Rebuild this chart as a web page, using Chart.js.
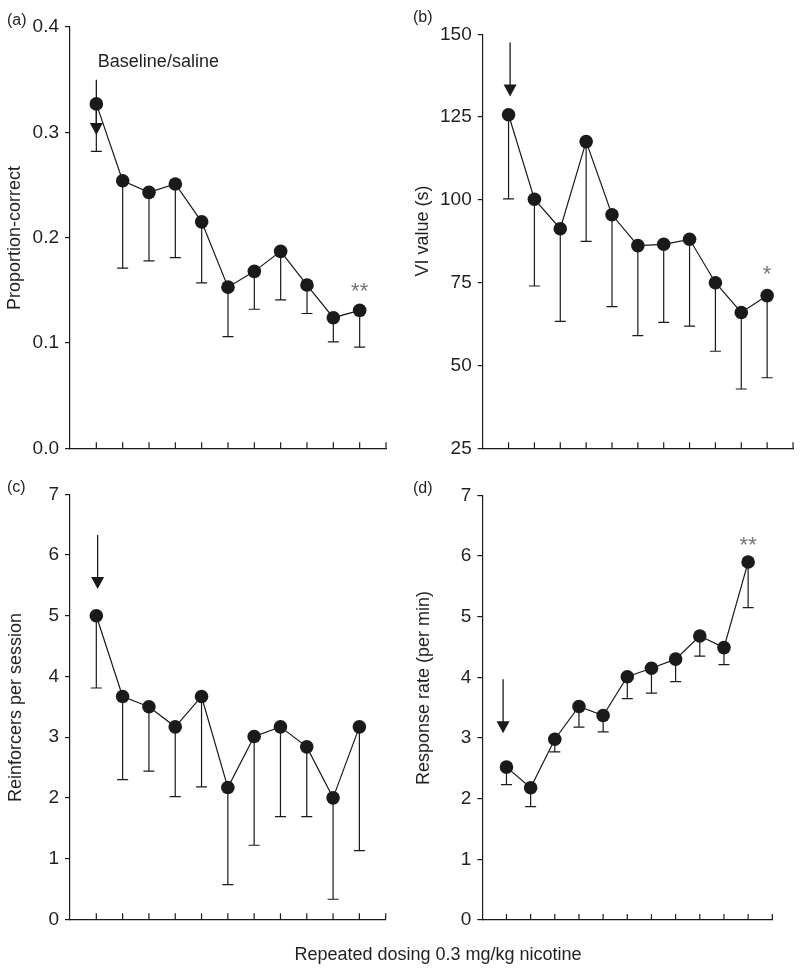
<!DOCTYPE html>
<html><head><meta charset="utf-8">
<script src="https://cdn.jsdelivr.net/npm/chart.js@4.4.0/dist/chart.umd.min.js"></script>
<style>
html,body{margin:0;padding:0;background:#fff;}
body{width:800px;height:971px;position:relative;overflow:hidden;font-family:"Liberation Sans",Arial,Helvetica,sans-serif;color:#231f20;}
.pane{position:absolute;}
.pane canvas{display:block;}
.plabel{position:absolute;font-size:16px;line-height:16px;}
#xlab{position:absolute;left:238px;width:400px;top:943px;text-align:center;font-size:18px;line-height:22px;}
</style></head><body>
<div class="pane" style="left:0;top:0"><canvas id="ca" width="400" height="470"></canvas></div>
<div class="pane" style="left:400px;top:0"><canvas id="cb" width="400" height="470"></canvas></div>
<div class="pane" style="left:0;top:470px"><canvas id="cc" width="400" height="501"></canvas></div>
<div class="pane" style="left:400px;top:470px"><canvas id="cd" width="400" height="501"></canvas></div>
<div class="plabel" style="left:7px;top:12px">(a)</div>
<div class="plabel" style="left:413px;top:9px">(b)</div>
<div class="plabel" style="left:7px;top:479px">(c)</div>
<div class="plabel" style="left:413px;top:480px">(d)</div>
<div id="xlab">Repeated dosing 0.3 mg/kg nicotine</div>
<script>
// ---- data ----
const sessionIdx = [1,2,3,4,5,6,7,8,9,10,11];
const xTickValues = [1,2,3,4,5,6,7,8,9,10,11,12];

const propCorrect    = [0.327,0.254,0.243,0.251,0.215,0.153,0.168,0.187,0.155,0.124,0.131];
const propCorrectLow = [0.282,0.171,0.178,0.181,0.157,0.106,0.132,0.141,0.128,0.101,0.096];
const propTicks = [0,0.1,0.2,0.3,0.4];

const viValue    = [125.7,100.2,91.3,117.6,95.5,86.2,86.6,88.1,75.0,66.0,71.1];
const viValueLow = [100.3,74.0,63.3,87.5,67.8,59.0,63.0,61.9,54.3,42.9,46.3];
const viTicks = [25,50,75,100,125,150];

const reinforcers    = [5.00,3.67,3.50,3.17,3.67,2.17,3.01,3.17,2.84,2.00,3.17];
const reinforcersLow = [3.81,2.30,2.44,2.02,2.18,0.57,1.22,1.69,1.69,0.33,1.13];
const reinfTicks = [0,1,2,3,4,5,6,7];

const responseRate    = [2.52,2.18,2.98,3.52,3.37,4.01,4.15,4.30,4.68,4.49,5.90];
const responseRateLow = [2.23,1.87,2.77,3.18,3.10,3.65,3.74,3.93,4.35,4.21,5.15];
const rateTicks = [0,1,2,3,4,5,6,7];

const FONT = '"Liberation Sans", Arial, Helvetica, sans-serif';
const INK = '#1a1a1a';
const TXT = '#231f20';

const annotPlugin = {
  id: 'annot',
  beforeDatasetsDraw(chart, args, o) {
    const {ctx, chartArea} = chart;
    const x = chart.scales.x, y = chart.scales.y;
    const pts = chart.data.datasets[0].data;
    ctx.save();
    ctx.strokeStyle = INK; ctx.lineWidth = 1.2;
    pts.forEach((p, i) => {
      const px = x.getPixelForValue(p.x), py = y.getPixelForValue(p.y), pl = y.getPixelForValue(o.low[i]);
      ctx.beginPath();
      ctx.moveTo(px, py); ctx.lineTo(px, pl);
      ctx.moveTo(px - 5.5, pl); ctx.lineTo(px + 5.5, pl);
      ctx.stroke();
    });
    xTickValues.forEach(v => {
      const px = x.getPixelForValue(v);
      ctx.beginPath(); ctx.moveTo(px, chartArea.bottom); ctx.lineTo(px, chartArea.bottom - 6); ctx.stroke();
    });
    ctx.restore();
  },
  afterDatasetsDraw(chart, args, o) {
    const {ctx} = chart;
    const x = chart.scales.x, y = chart.scales.y;
    ctx.save();
    // arrow
    const a = o.arrow;
    const ax = x.getPixelForValue(a.x), at = y.getPixelForValue(a.top), tip = y.getPixelForValue(a.tip);
    ctx.strokeStyle = INK; ctx.fillStyle = INK; ctx.lineWidth = 1.3;
    ctx.beginPath(); ctx.moveTo(ax, at); ctx.lineTo(ax, tip - 6); ctx.stroke();
    ctx.beginPath(); ctx.moveTo(ax - 6.5, tip - 12); ctx.lineTo(ax + 6.5, tip - 12); ctx.lineTo(ax, tip); ctx.closePath(); ctx.fill();
    // texts
    (o.texts || []).forEach(t => {
      ctx.font = t.size + 'px ' + FONT;
      ctx.fillStyle = t.color;
      ctx.textAlign = t.align;
      const px = x.getPixelForValue(t.x);
      const py = y.getPixelForValue(t.y);
      if (t.glyphCenter) { ctx.textBaseline = 'alphabetic'; ctx.fillText(t.text, px, py + t.size * 0.57); }
      else { ctx.textBaseline = 'middle'; ctx.fillText(t.text, px + 1.5, py); }
    });
    // y axis title
    ctx.font = '18px ' + FONT; ctx.fillStyle = TXT; ctx.textAlign = 'center'; ctx.textBaseline = 'middle';
    ctx.translate(o.title.cx, o.title.cy); ctx.rotate(-Math.PI / 2);
    ctx.fillText(o.title.text, 0, 0);
    ctx.restore();
  }
};

function makeChart(id, values, low, cfg) {
  return new Chart(document.getElementById(id), {
    type: 'line',
    data: { datasets: [{
      data: sessionIdx.map((s, i) => ({x: s, y: values[i]})),
      borderColor: INK, borderWidth: 1.2, tension: 0,
      pointRadius: 6.8, pointHoverRadius: 6.8, pointBackgroundColor: INK, pointBorderWidth: 0,
      clip: false
    }]},
    options: {
      responsive: false, animation: false, events: [],
      layout: {padding: {top: cfg.padTop, right: cfg.padRight, left: 0, bottom: 0}},
      plugins: {
        legend: {display: false}, tooltip: {enabled: false},
        annot: {low: low, arrow: cfg.arrow, texts: cfg.texts, title: cfg.title}
      },
      scales: {
        x: {type: 'linear', min: 0, max: 12,
            ticks: {display: false}, grid: {display: false},
            border: {display: true, color: INK, width: 1.2},
            afterFit(s) { s.height = cfg.xH; }},
        y: {type: 'linear', min: cfg.yTicks[0], max: cfg.yTicks[cfg.yTicks.length - 1],
            afterBuildTicks(s) { s.ticks = cfg.yTicks.map(v => ({value: v})); },
            ticks: {callback: cfg.fmt, color: TXT, font: {family: FONT, size: 19}, padding: 6},
            grid: {drawOnChartArea: false, drawTicks: true, tickLength: 5, color: INK, lineWidth: 1.2},
            border: {display: true, color: INK, width: 1.2},
            afterFit(s) { s.width = cfg.yW; }}
      }
    },
    plugins: [annotPlugin]
  });
}

makeChart('ca', propCorrect, propCorrectLow, {
  padTop: 27, padRight: 14, xH: 21.7, yW: 70, yTicks: propTicks, fmt: v => v.toFixed(1),
  arrow: {x: 1, top: 0.350, tip: 0.2975},
  texts: [
    {text: 'Baseline/saline', x: 1, y: 0.367, size: 18, color: TXT, align: 'left'},
    {text: '**', x: 11, y: 0.1544, size: 22, color: '#777', align: 'center', glyphCenter: true}
  ],
  title: {text: 'Proportion-correct', cx: 15.5, cy: 238}
});
makeChart('cb', viValue, viValueLow, {
  padTop: 34.3, padRight: 7, xH: 21.7, yW: 82.7, yTicks: viTicks, fmt: v => String(v),
  arrow: {x: 1.06, top: 147.5, tip: 131.2},
  texts: [
    {text: '*', x: 11, y: 79.3, size: 22, color: '#777', align: 'center', glyphCenter: true}
  ],
  title: {text: 'VI value (s)', cx: 23, cy: 231}
});
makeChart('cc', reinforcers, reinforcersLow, {
  padTop: 24.3, padRight: 14.3, xH: 51.7, yW: 70, yTicks: reinfTicks, fmt: v => String(v),
  arrow: {x: 1.05, top: 6.33, tip: 5.44},
  texts: [],
  title: {text: 'Reinforcers per session', cx: 16, cy: 237.5}
});
makeChart('cd', responseRate, responseRateLow, {
  padTop: 25.3, padRight: 27.7, xH: 51, yW: 82.3, yTicks: rateTicks, fmt: v => String(v),
  arrow: {x: 0.86, top: 3.97, tip: 3.08},
  texts: [
    {text: '**', x: 11, y: 6.28, size: 22, color: '#777', align: 'center', glyphCenter: true}
  ],
  title: {text: 'Response rate (per min)', cx: 24, cy: 218}
});
</script>
</body></html>
